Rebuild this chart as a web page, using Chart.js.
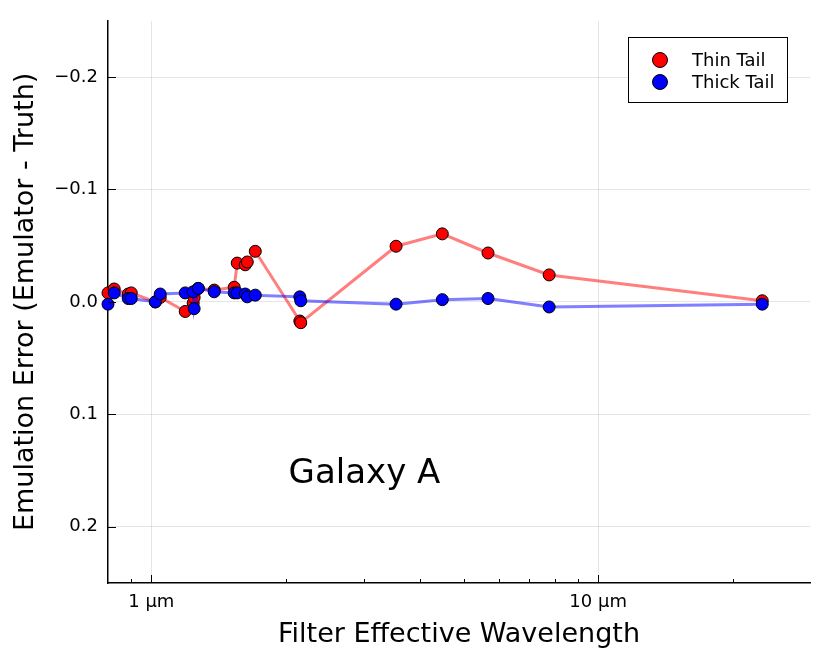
<!DOCTYPE html>
<html><head><meta charset="utf-8">
<script src="https://cdn.jsdelivr.net/npm/chart.js@4.4.1/dist/chart.umd.min.js"></script>
<style>html,body{margin:0;padding:0;background:#fff}#wrap{width:830px;height:664px;position:relative}</style>
</head><body><div id="wrap"><canvas id="c"></canvas></div>
<script>
// Filter effective wavelengths (µm)
const wavelengths = [0.80, 0.826, 0.888, 0.902, 1.021, 1.047, 1.191, 1.241, 1.247, 1.274, 1.383, 1.533, 1.557, 1.623, 1.640, 1.709, 2.150, 2.160, 3.53, 4.48, 5.67, 7.77, 23.3];
// Emulation error (Emulator - Truth)
const thinTail  = [-0.008, -0.0115, -0.007, -0.008, 0.000, -0.004, 0.0085, 0.001, -0.004, -0.012, -0.0105, -0.013, -0.0345, -0.033, -0.0355, -0.045, 0.0170, 0.0185, -0.0495, -0.0605, -0.0435, -0.0240, -0.001];
const thickTail = [0.002, -0.008, -0.003, -0.003, 0.000, -0.007, -0.008, -0.009, 0.006, -0.012, -0.009, -0.008, -0.008, -0.007, -0.0045, -0.006, -0.0045, -0.001, 0.002, -0.002, -0.003, 0.0045, 0.002];
const seriesLabels = ['Thin Tail', 'Thick Tail'];
const xTickValues = [0.9, 1, 2, 3, 4, 5, 6, 7, 8, 9, 10, 20];
const xMajorTicks = [1, 10];
const yTickValues = [-0.2, -0.1, 0.0, 0.1, 0.2];
const annotationText = 'Galaxy A';
const annotationPos = [3.0, 0.153];

const FONT = 'DejaVu Sans';
const toPts = ys => wavelengths.map((w, i) => ({x: w, y: ys[i]}));
const fmtY = v => { const s = Math.abs(v).toFixed(1); return v < -1e-9 ? '\u2212' + s : s; };

const tickMarks = {
  id: 'tickMarks',
  afterDraw(chart) {
    const {ctx, chartArea: a, scales: {x, y}} = chart;
    ctx.save();
    ctx.strokeStyle = '#000'; ctx.lineWidth = 1;
    ctx.beginPath();
    xTickValues.forEach(v => {
      const px = Math.round(x.getPixelForValue(v)) + 0.5;
      const len = xMajorTicks.includes(v) ? 8 : 4;
      ctx.moveTo(px, a.bottom); ctx.lineTo(px, a.bottom - len);
    });
    yTickValues.forEach(v => {
      const py = Math.round(y.getPixelForValue(v)) + 0.5;
      ctx.moveTo(a.left, py); ctx.lineTo(a.left + 8, py);
    });
    ctx.stroke();
    // annotation
    ctx.fillStyle = '#000';
    ctx.font = '34px "' + FONT + '"';
    ctx.textAlign = 'center'; ctx.textBaseline = 'middle';
    ctx.fillText(annotationText, x.getPixelForValue(annotationPos[0]), y.getPixelForValue(annotationPos[1]));
    // legend
    const bx = 628.5, by = 37.5, bw = 159, bh = 65;
    ctx.fillStyle = '#fff'; ctx.fillRect(bx, by, bw, bh);
    ctx.strokeStyle = '#000'; ctx.lineWidth = 1; ctx.strokeRect(bx, by, bw, bh);
    ctx.font = '18px "' + FONT + '"';
    ctx.textAlign = 'left';
    chart.data.datasets.forEach((ds, i) => {
      const cy = 60 + i * 22;
      ctx.beginPath(); ctx.arc(660, cy, 7.5, 0, Math.PI * 2);
      ctx.fillStyle = ds.pointBackgroundColor; ctx.fill();
      ctx.strokeStyle = '#000'; ctx.stroke();
      ctx.fillStyle = '#000';
      ctx.fillText(ds.label, 692, cy + 1);
    });
    ctx.restore();
  }
};

new Chart(document.getElementById('c'), {
  type: 'line',
  data: {
    datasets: [
      { label: seriesLabels[0], data: toPts(thinTail), borderColor: 'rgba(255,0,0,0.5)', borderWidth: 3,
        pointBackgroundColor: '#ff0000', pointBorderColor: '#000', pointBorderWidth: 1, pointRadius: 6,
        order: 2, clip: false, tension: 0 },
      { label: seriesLabels[1], data: toPts(thickTail), borderColor: 'rgba(0,0,255,0.5)', borderWidth: 3,
        pointBackgroundColor: '#0000ff', pointBorderColor: '#000', pointBorderWidth: 1, pointRadius: 6,
        order: 1, clip: false, tension: 0 }
    ]
  },
  options: {
    responsive: true, maintainAspectRatio: false, animation: false,
    devicePixelRatio: 1,
    layout: { padding: { top: 18, right: 20, left: 0, bottom: 0 } },
    plugins: { legend: { display: false }, tooltip: { enabled: false } },
    scales: {
      x: {
        type: 'logarithmic', min: 0.80, max: 29.8,
        afterBuildTicks: s => { s.ticks = xTickValues.map(v => ({value: v, major: xMajorTicks.includes(v)})); },
        afterFit: s => { s.height = 81; },
        ticks: { autoSkip: false, maxRotation: 0, minRotation: 0, padding: 9, color: '#000',
          font: { family: FONT, size: 18 },
          callback: v => xMajorTicks.includes(v) ? v + ' \u00b5m' : '' },
        grid: { drawTicks: false, lineWidth: 1,
          color: c => (c.tick && xMajorTicks.includes(c.tick.value)) ? 'rgba(0,0,0,0.1)' : 'rgba(0,0,0,0)' },
        border: { display: true, color: '#000', width: 1.5 },
        title: { display: true, text: 'Filter Effective Wavelength', color: '#000',
          font: { family: FONT, size: 27 }, padding: { top: 0, bottom: 13 } }
      },
      y: {
        type: 'linear', reverse: true, min: -0.25, max: 0.25,
        afterBuildTicks: s => { s.ticks = yTickValues.map(v => ({value: v})); },
        afterFit: s => { s.width = 108; },
        ticks: { padding: 10, color: '#000', font: { family: FONT, size: 18 }, callback: v => fmtY(v) },
        grid: { drawTicks: false, lineWidth: 1, color: 'rgba(0,0,0,0.1)' },
        border: { display: true, color: '#000', width: 1.5 },
        title: { display: true, text: 'Emulation Error (Emulator - Truth)', color: '#000',
          font: { family: FONT, size: 27 }, padding: { top: 10, bottom: 0 } }
      }
    }
  },
  plugins: [tickMarks]
});
</script></body></html>
